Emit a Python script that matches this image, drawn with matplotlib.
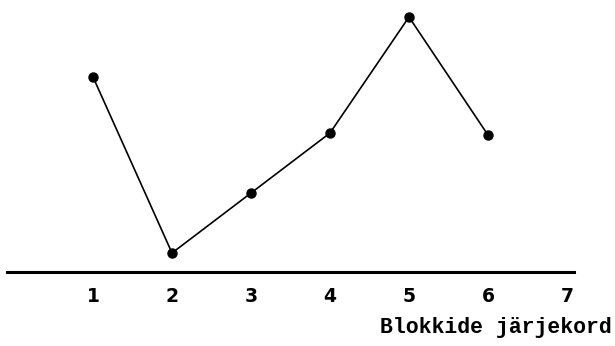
import matplotlib.pyplot as plt

# block order numbers and plotted heights (arbitrary units)
blocks = [1, 2, 3, 4, 5, 6]
values = [195, 19, 79, 139, 255, 137]
tick_pos = [1, 2, 3, 4, 5, 6, 7]
tick_labels = ['1', '2', '3', '4', '5', '6', '7']
xlabel = 'Blokkide järjekord'

fig = plt.figure(figsize=(6.15, 3.46), dpi=100)
ax = fig.add_axes([7 / 615, 74 / 346, 567 / 615, 267 / 346])

ax.plot(blocks, values, color='black', linewidth=1.2,
        marker='o', markersize=6.5, markerfacecolor='black')

ax.set_xlim(-0.089, 7.089)
ax.set_ylim(0, 267)

for s in ['top', 'right', 'left']:
    ax.spines[s].set_visible(False)
ax.spines['bottom'].set_linewidth(2.2)

ax.set_yticks([])
ax.set_xticks(tick_pos)
ax.set_xticklabels(tick_labels, family='DejaVu Sans', fontweight='bold', fontsize=13.5)
ax.tick_params(axis='x', length=0, pad=11)

fig.text(612 / 615, (346 - 328) / 346, xlabel, ha='right', va='center',
         family='Liberation Mono', fontweight='bold', fontsize=15.5)

fig.savefig('out.png', dpi=100)
